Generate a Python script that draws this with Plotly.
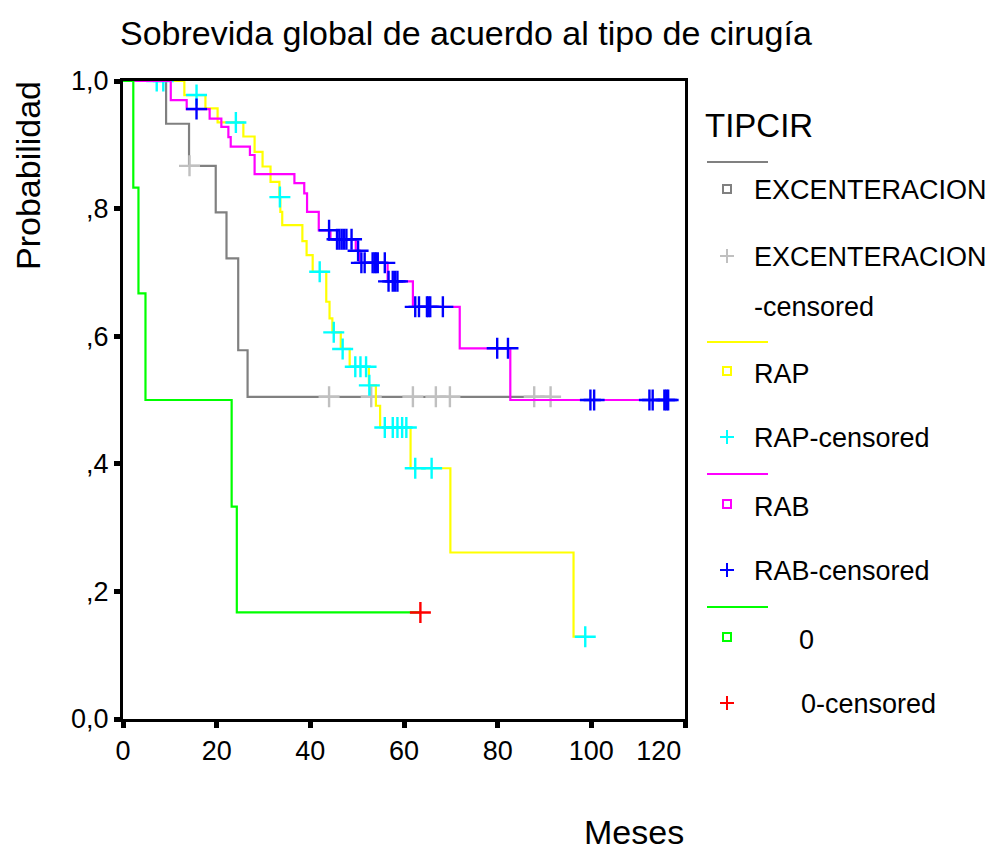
import plotly.graph_objects as go

# ---------------- data ----------------
groups = ["EXCENTERACION", "RAP", "RAB", "0"]

exc_event_t = [9.2, 14.1, 19.8, 22.1, 24.6, 26.6]
exc_event_s = [0.933, 0.867, 0.794, 0.722, 0.578, 0.505]
exc_cens_t = [14.2, 44.0, 53.0, 61.9, 66.8, 69.8, 87.8, 91.3]

rap_event_t = [13.1, 17.6, 20.2, 25.7, 28.1, 29.8, 31.5, 33.4, 33.6, 34.0,
               38.3, 39.2, 40.5, 43.4, 44.1, 44.7, 46.5, 48.4, 52.5, 54.0,
               54.9, 61.4, 69.9, 96.2]
rap_event_s = [0.978, 0.957, 0.935, 0.913, 0.889, 0.866, 0.842, 0.818, 0.795, 0.774,
               0.749, 0.727, 0.701, 0.654, 0.628, 0.606, 0.580, 0.552, 0.523, 0.491,
               0.457, 0.393, 0.261, 0.129]
rap_cens_t = [7.2, 8.6, 15.7, 24.1, 33.5, 42.0, 45.0, 46.9, 49.6, 50.7, 51.9, 52.6,
              55.9, 57.6, 58.6, 59.6, 60.5, 62.4, 65.9, 98.7]

rab_event_t = [10.2, 13.6, 18.5, 21.0, 22.5, 23.0, 27.1, 28.1, 36.6, 38.7, 39.3,
               41.8, 44.3, 49.7, 50.5, 56.5, 61.9, 71.9, 82.7]
rab_event_s = [0.970, 0.956, 0.941, 0.928, 0.912, 0.897, 0.884, 0.854, 0.840, 0.824, 0.795,
               0.766, 0.752, 0.734, 0.715, 0.686, 0.646, 0.581, 0.500]
rab_cens_t = [15.7, 44.0, 45.7, 46.2, 46.7, 47.2, 47.7, 48.8, 50.2, 50.9, 51.6, 53.3,
              53.7, 54.0, 54.4, 55.9, 56.7, 57.6, 58.1, 58.6, 62.4, 63.2, 64.9, 65.2,
              65.6, 68.3, 79.9, 82.2, 99.8, 100.6, 112.4, 113.1, 115.6, 116.0, 116.4]

g0_event_t = [2.2, 3.3, 4.8, 23.2, 24.3]
g0_event_s = [0.833, 0.667, 0.500, 0.333, 0.167]
g0_cens_t = [63.5]

x_ticks = [0, 20, 40, 60, 80, 100, 120]
x_tick_text = ["0", "20", "40", "60", "80", "100", "120" + "\u00a0" * 7]
y_ticks = [0.0, 0.2, 0.4, 0.6, 0.8, 1.0]
y_tick_text = ["0,0", ",2", ",4", ",6", ",8", "1,0"]

line_colors = ["#808080", "#ffff00", "#ff00ff", "#00ff00"]
cens_colors = ["#c0c0c0", "#00ffff", "#0000ff", "#ff0000"]

series = [
    (exc_event_t, exc_event_s, exc_cens_t),
    (rap_event_t, rap_event_s, rap_cens_t),
    (rab_event_t, rab_event_s, rab_cens_t),
    (g0_event_t, g0_event_s, g0_cens_t),
]


def surv_at(t, ev_t, ev_s):
    s = 1.0
    for et, es in zip(ev_t, ev_s):
        if et <= t:
            s = es
    return s


fig = go.Figure()
for (et, es, ct), lc, cc in zip(series, line_colors, cens_colors):
    end_t = max(max(ct), et[-1])
    xs = [0] + et + [end_t]
    ys = [1.0] + es + [es[-1]]
    fig.add_trace(go.Scatter(x=xs, y=ys, mode="lines", line=dict(color=lc, width=2.2, shape="hv"),
                             showlegend=False, hoverinfo="skip"))
    fig.add_trace(go.Scatter(x=ct, y=[surv_at(c, et, es) for c in ct], mode="markers",
                             marker=dict(symbol="cross-thin", size=15, line=dict(color=cc, width=2.4)),
                             showlegend=False, hoverinfo="skip"))

# ---------------- layout ----------------
L, R, T, B = 123, 685, 81, 719
W, H = 992, 851


def px(xp):
    return (xp - L) / (R - L)


def py(yp):
    return (B - yp) / (B - T)


FONT = "Liberation Sans, Arial, sans-serif"
shapes = []
annotations = []

# title and axis titles
annotations.append(dict(text="Sobrevida global de acuerdo al tipo de cirugía", x=px(466), y=py(33),
                        xref="paper", yref="paper", showarrow=False, xanchor="center", yanchor="middle",
                        font=dict(size=34, color="black", family=FONT)))
annotations.append(dict(text="Probabilidad", x=px(28), y=py(176), xref="paper", yref="paper",
                        showarrow=False, textangle=-90, xanchor="center", yanchor="middle",
                        font=dict(size=34, color="black", family=FONT)))
annotations.append(dict(text="Meses", x=px(634), y=py(832), xref="paper", yref="paper",
                        showarrow=False, xanchor="center", yanchor="middle",
                        font=dict(size=34, color="black", family=FONT)))

# legend (drawn by hand to match the original layout)
annotations.append(dict(text="TIPCIR", x=px(703), y=py(125), xref="paper", yref="paper",
                        showarrow=False, xanchor="left", yanchor="middle",
                        font=dict(size=33, color="black", family=FONT)))
legend_rows = [
    # (line y, square y, label y, plus y, label, censored label lines, text x, censored text x)
    (162, 189, 190, 256, "EXCENTERACION", ["EXCENTERACION", "-censored"], 752, 752),
    (342, 371, 374, 437, "RAP", ["RAP-censored"], 752, 752),
    (474, 504, 507, 570, "RAB", ["RAB-censored"], 752, 752),
    (607, 637, 640, 703, "0", ["0-censored"], 797, 799),
]
for i, (ly, sy, ty, cy, lab, clab, tx, ctx) in enumerate(legend_rows):
    shapes.append(dict(type="line", xref="paper", yref="paper", x0=px(707), x1=px(768), y0=py(ly), y1=py(ly),
                       line=dict(color=line_colors[i], width=2)))
    shapes.append(dict(type="rect", xref="paper", yref="paper", x0=px(723), x1=px(731), y0=py(sy - 4), y1=py(sy + 4),
                       line=dict(color=line_colors[i], width=2)))
    shapes.append(dict(type="line", xref="paper", yref="paper", x0=px(720), x1=px(734), y0=py(cy), y1=py(cy),
                       line=dict(color=cens_colors[i], width=2)))
    shapes.append(dict(type="line", xref="paper", yref="paper", x0=px(727), x1=px(727), y0=py(cy - 7), y1=py(cy + 7),
                       line=dict(color=cens_colors[i], width=2)))
    annotations.append(dict(text=lab, x=px(tx), y=py(ty), xref="paper", yref="paper", showarrow=False,
                            xanchor="left", yanchor="middle", font=dict(size=27, color="black", family=FONT)))
    for k, cl in enumerate(clab):
        annotations.append(dict(text=cl, x=px(ctx), y=py(cy + 1 + k * 50), xref="paper", yref="paper",
                                showarrow=False, xanchor="left", yanchor="middle",
                                font=dict(size=27, color="black", family=FONT)))

fig.update_layout(
    width=W, height=H,
    margin=dict(l=L, r=W - R, t=T, b=H - B, autoexpand=False),
    paper_bgcolor="white", plot_bgcolor="white",
    showlegend=False,
    font=dict(family=FONT, color="black"),
    shapes=shapes, annotations=annotations,
    xaxis=dict(range=[0, 120], tickvals=x_ticks, ticktext=x_tick_text,
               showgrid=False, zeroline=False, showline=True, linecolor="black", linewidth=3, mirror=True,
               ticks="outside", ticklen=6, tickwidth=5, tickcolor="black",
               tickfont=dict(size=27, color="black", family=FONT), fixedrange=True),
    yaxis=dict(range=[0, 1], tickvals=y_ticks, ticktext=y_tick_text,
               showgrid=False, zeroline=False, showline=True, linecolor="black", linewidth=3, mirror=True,
               ticks="outside", ticklen=6, tickwidth=5, tickcolor="black",
               tickfont=dict(size=27, color="black", family=FONT), fixedrange=True),
)

fig.write_html("out.html")
